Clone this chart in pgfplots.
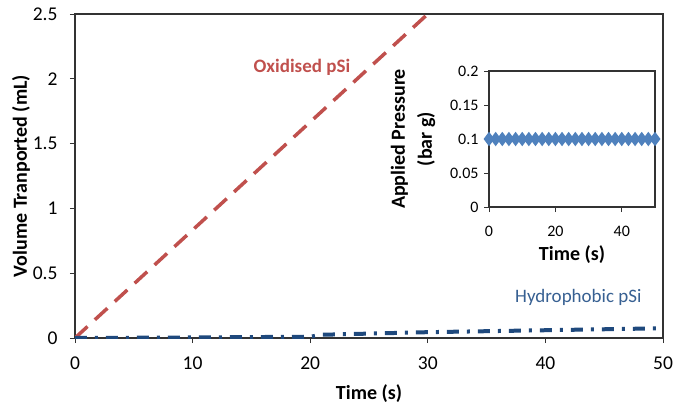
\documentclass[border=0pt]{standalone}
\usepackage{fontspec}
\setmainfont{Carlito}
\usepackage{pgfplots}
\pgfplotsset{compat=1.18}
\definecolor{oxred}{RGB}{192,80,77}
\definecolor{hydblue}{RGB}{31,73,125}
\definecolor{hydtext}{RGB}{55,96,146}
\definecolor{presblue}{RGB}{79,129,189}

\begin{document}
\begin{tikzpicture}
\pgfplotsset{every axis/.append style={
  scale only axis,
  axis line style={line width=1.2pt, black!80},
  tick style={black!80, line width=1pt},
  tick align=outside, major tick length=5pt,
  xtick pos=bottom, ytick pos=left,
  /pgf/number format/assume math mode=true,
  /pgf/number format/fixed, /pgf/number format/precision=2,
  scaled ticks=false,
  label style={font=\bfseries\fontsize{20}{27}\selectfont},
}}
% main chart
\begin{axis}[at={(75pt,67pt)}, anchor=south west, width=588pt, height=324pt,
  xmin=0, xmax=50, ymin=0, ymax=2.5,
  xtick={0,10,...,50}, ytick={0,0.5,1,1.5,2,2.5},
  ticklabel style={font=\fontsize{19.5}{21}\selectfont},
  xticklabel style={yshift=-10pt}, yticklabel style={xshift=-9pt},
  xlabel={Time (s)}, ylabel={Volume Tranported (mL)},
  xlabel style={yshift=-8pt}, ylabel style={yshift=-4pt}]
\addplot[oxred, line width=3.5pt, dash pattern=on 17pt off 10pt]
  coordinates {(0,0) (30,2.5)};
\addplot[hydblue, line width=4pt, dash pattern=on 12pt off 8pt on 3pt off 8pt]
  coordinates {(0,0) (8,0.003) (20,0.01) (21,0.025) (30,0.045) (40,0.06) (50,0.075)};
\node[oxred, font=\bfseries\fontsize{19}{22}\selectfont] at (axis cs:19.3,2.09) {Oxidised pSi};
\node[hydtext, font=\fontsize{19}{22}\selectfont] at (axis cs:42.8,0.316) {Hydrophobic pSi};
\end{axis}
% inset
\begin{axis}[at={(489pt,198pt)}, anchor=south west, width=166pt, height=136pt,
  xmin=0, xmax=50, ymin=0, ymax=0.2,
  xtick={0,20,40}, ytick={0,0.05,0.1,0.15,0.2},
  ticklabel style={font=\fontsize{16}{18}\selectfont},
  xticklabel style={yshift=-11pt}, yticklabel style={xshift=-2pt},
  xlabel={Time (s)},
  ylabel={Applied Pressure\\(bar g)},
  ylabel style={align=center, yshift=8pt},
  xlabel style={yshift=-2pt}]
\addplot[presblue, line width=1.5pt, mark=diamond*, mark size=6pt,
  mark options={solid, fill=presblue, draw=presblue}]
  coordinates {(0,0.1) (2,0.1) (4,0.1) (6,0.1) (8,0.1) (10,0.1) (12,0.1)
  (14,0.1) (16,0.1) (18,0.1) (20,0.1) (22,0.1) (24,0.1) (26,0.1) (28,0.1)
  (30,0.1) (32,0.1) (34,0.1) (36,0.1) (38,0.1) (40,0.1) (42,0.1) (44,0.1)
  (46,0.1) (48,0.1) (50,0.1)};
\end{axis}
\pgfresetboundingbox
\path (0pt,0pt) rectangle (676pt,405pt);
\end{tikzpicture}
\end{document}
